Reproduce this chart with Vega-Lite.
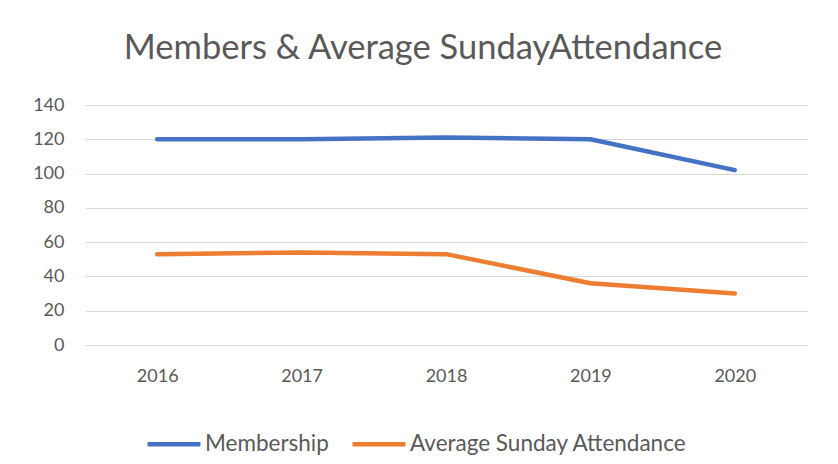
{
  "$schema": "https://vega.github.io/schema/vega-lite/v6.json",
  "width": 722,
  "height": 240,
  "autosize": {"type": "none"},
  "padding": {"left": 85, "top": 105, "right": 31, "bottom": 119},
  "background": "white",
  "title": {
    "text": "Members & Average SundayAttendance",
    "anchor": "middle",
    "frame": "group",
    "dx": -23,
    "offset": 30,
    "font": "Lato",
    "fontSize": 34.5,
    "fontWeight": "normal",
    "color": "#595959"
  },
  "data": {
    "values": [
      {"year": "2016", "series": "Membership", "value": 120},
      {"year": "2017", "series": "Membership", "value": 120},
      {"year": "2018", "series": "Membership", "value": 121},
      {"year": "2019", "series": "Membership", "value": 120},
      {"year": "2020", "series": "Membership", "value": 102},
      {"year": "2016", "series": "Average Sunday Attendance", "value": 53},
      {"year": "2017", "series": "Average Sunday Attendance", "value": 54},
      {"year": "2018", "series": "Average Sunday Attendance", "value": 53},
      {"year": "2019", "series": "Average Sunday Attendance", "value": 36},
      {"year": "2020", "series": "Average Sunday Attendance", "value": 30}
    ]
  },
  "mark": {"type": "line", "strokeWidth": 4.5, "strokeCap": "round", "strokeJoin": "round"},
  "encoding": {
    "x": {
      "field": "year",
      "type": "ordinal",
      "scale": {"type": "point", "padding": 0.5},
      "axis": {
        "title": null,
        "labelAngle": 0,
        "domain": false,
        "ticks": false,
        "grid": false,
        "labelPadding": 22,
        "labelFont": "Lato",
        "labelFontSize": 18,
        "labelColor": "#595959"
      }
    },
    "y": {
      "field": "value",
      "type": "quantitative",
      "scale": {"domain": [0, 140]},
      "axis": {
        "title": null,
        "values": [0, 20, 40, 60, 80, 100, 120, 140],
        "domain": false,
        "ticks": false,
        "grid": true,
        "gridColor": "#D9D9D9",
        "gridWidth": 1.2,
        "labelPadding": 21,
        "labelFont": "Lato",
        "labelFontSize": 18,
        "labelColor": "#595959"
      }
    },
    "color": {
      "field": "series",
      "type": "nominal",
      "scale": {
        "domain": ["Membership", "Average Sunday Attendance"],
        "range": ["#4472C4", "#ED7D31"]
      },
      "legend": {
        "title": null,
        "orient": "none",
        "direction": "horizontal",
        "legendX": 60,
        "legendY": 310,
        "symbolType": "stroke",
        "symbolSize": 2800,
        "symbolStrokeWidth": 4.5,
        "labelFont": "Lato",
        "labelFontSize": 22.5,
        "labelColor": "#595959",
        "labelOffset": 2,
        "labelLimit": 0,
        "columnPadding": 14
      }
    }
  },
  "config": {
    "view": {"stroke": null}
  }
}
